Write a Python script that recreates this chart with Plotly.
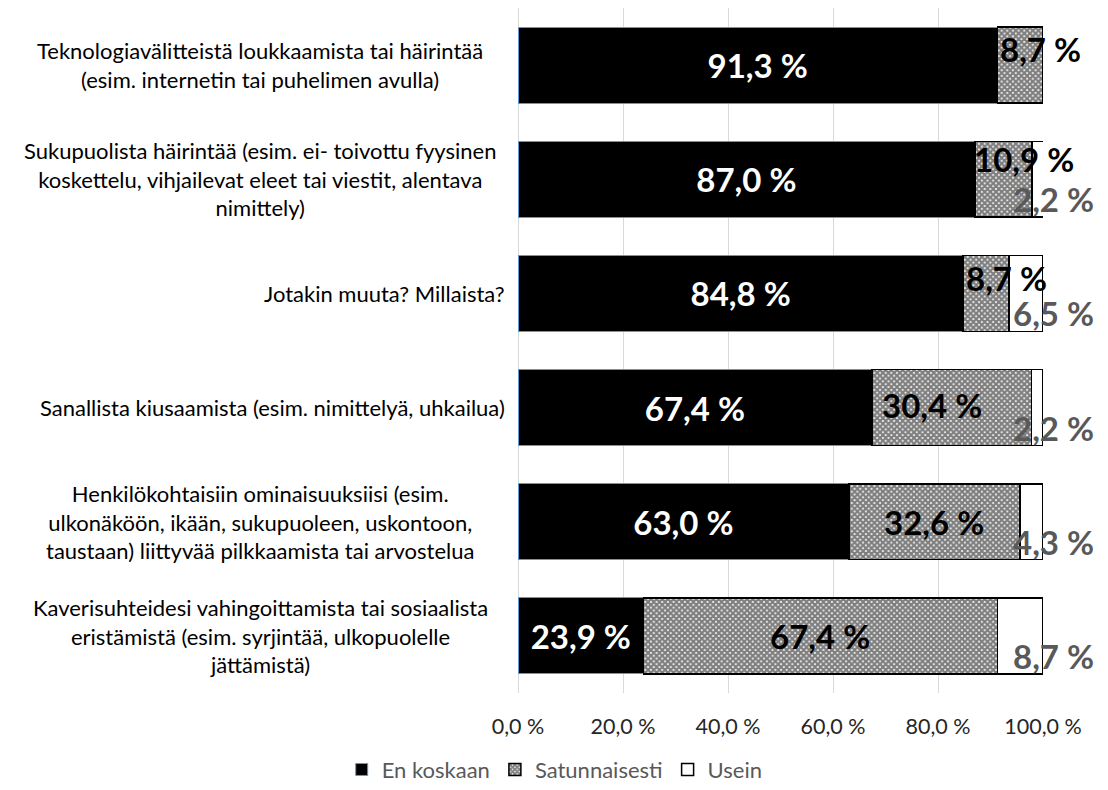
import plotly.graph_objects as go

# data (percent of respondents)
categories = [
    "Teknologiavälitteistä loukkaamista tai häirintää<br>(esim. internetin tai puhelimen avulla)",
    "Sukupuolista häirintää (esim. ei- toivottu fyysinen<br>koskettelu, vihjailevat eleet tai viestit, alentava<br>nimittely)",
    "Jotakin muuta? Millaista?",
    "Sanallista kiusaamista (esim. nimittelyä, uhkailua)",
    "Henkilökohtaisiin ominaisuuksiisi (esim.<br>ulkonäköön, ikään, sukupuoleen, uskontoon,<br>taustaan) liittyvää pilkkaamista tai arvostelua",
    "Kaverisuhteidesi vahingoittamista tai sosiaalista<br>eristämistä (esim. syrjintää, ulkopuolelle<br>jättämistä)",
]
en_koskaan = [91.3, 87.0, 84.8, 67.4, 63.0, 23.9]
satunnaisesti = [8.7, 10.9, 8.7, 30.4, 32.6, 67.4]
usein = [0.0, 2.2, 6.5, 2.2, 4.3, 8.7]

FONT = "Lato"
LABEL_SIZE = 33

# label nudges (px) for the "Satunnaisesti" labels, as placed in the original
sat_dx = [20, 21, 20, -20, 0, 0]
sat_dy = [16, 20, 15, 3, 0, 0]


def pct(v):
    return f"{v:.1f} %".replace(".", ",")


fig = go.Figure()

fig.add_trace(go.Bar(
    y=categories, x=en_koskaan, name="En koskaan", orientation="h",
    marker=dict(color="black", line=dict(color="#5B9BD5", width=1)),
    texttemplate="%{x:.1f} %", textposition="inside", insidetextanchor="middle",
    constraintext="none",
    textfont=dict(family=FONT, size=LABEL_SIZE, color="white", weight="bold"),
    hoverinfo="skip",
))
fig.add_trace(go.Bar(
    y=categories, x=satunnaisesti, name="Satunnaisesti", orientation="h",
    marker=dict(color="white", line=dict(color="black", width=1.5),
                pattern=dict(shape="x", fgcolor="black", bgcolor="white", size=4, solidity=0.8)),
    hoverinfo="skip",
))
fig.add_trace(go.Bar(
    y=categories, x=usein, name="Usein", orientation="h",
    marker=dict(color="white", line=dict(color="black", width=1.5)),
    hoverinfo="skip",
))

annotations = []
for i, cat in enumerate(categories):
    # category labels: wrapped ones are centred in a text box, single lines right aligned
    if "<br>" in cat:
        annotations.append(dict(
            x=-0.491, xref="paper", y=cat, yref="y", xanchor="center", align="center",
            text=cat, showarrow=False, font=dict(family=FONT, size=22, color="black")))
    else:
        annotations.append(dict(
            x=0, xref="paper", y=cat, yref="y", xanchor="right", xshift=-11,
            text=cat, showarrow=False, font=dict(family=FONT, size=22, color="black")))

    annotations.append(dict(
        x=en_koskaan[i] + satunnaisesti[i] / 2, y=cat, xref="x", yref="y",
        text=pct(satunnaisesti[i]), showarrow=False,
        xshift=sat_dx[i], yshift=sat_dy[i],
        font=dict(family=FONT, size=LABEL_SIZE, color="black", weight="bold")))

    if usein[i] > 0:
        # bars all end at 100 %, so anchor at the right end of the axis
        annotations.append(dict(
            x=1, y=cat, xref="paper", yref="y",
            text=pct(usein[i]), showarrow=False,
            xanchor="right", xshift=53, yshift=-20,
            font=dict(family=FONT, size=LABEL_SIZE, color="#595959", weight="bold")))

# the page has an 8px body margin, so the figure is 8px smaller than the window
fig.update_layout(
    width=1100, height=782, autosize=False,
    barmode="stack", bargap=0.335,
    separators=", ",
    plot_bgcolor="white", paper_bgcolor="white",
    margin=dict(l=510, r=65, t=0, b=97),
    font=dict(family=FONT),
    showlegend=True,
    legend=dict(
        orientation="h", xref="container", yref="container",
        x=0.497, xanchor="center", y=0.026, yanchor="middle",
        font=dict(family=FONT, size=22, color="#595959"),
        itemwidth=30, traceorder="normal",
    ),
    annotations=annotations,
)
fig.update_xaxes(
    range=[0, 100], dtick=20, tickformat=".1f", ticksuffix=" %",
    showgrid=True, gridcolor="#d9d9d9", gridwidth=1,
    zeroline=True, zerolinecolor="#d9d9d9", zerolinewidth=1,
    showline=False, ticklabelstandoff=18,
    tickfont=dict(family=FONT, size=21.5, color="#262626"),
)
fig.update_yaxes(
    autorange="reversed", showticklabels=False, showgrid=False, zeroline=False,
)

fig.write_html("out.html")
